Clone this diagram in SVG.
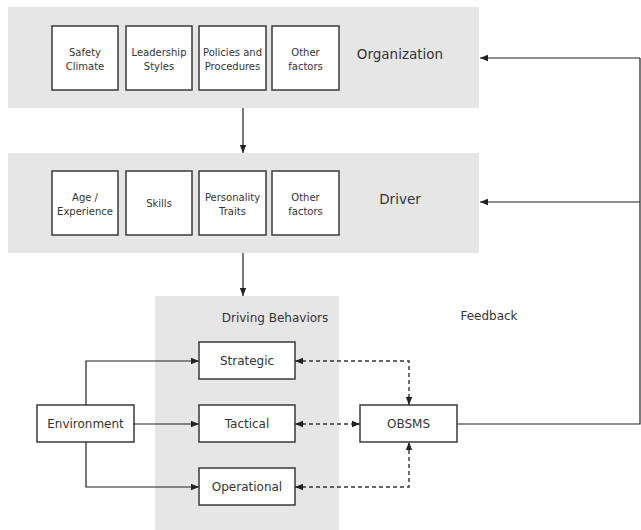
<svg xmlns="http://www.w3.org/2000/svg" width="641" height="530" viewBox="0 0 641 530">
<style>
.panel{fill:#e6e6e6;stroke:none}
.box{fill:#fff;stroke:#3a3a3a;stroke-width:1.5}
.t{font-family:"DejaVu Sans",Verdana,sans-serif;fill:#333;text-anchor:middle}
.s{font-size:10px}
.m{font-size:12px}
.h{font-size:13.5px}
.ln{fill:none;stroke:#222;stroke-width:1.2}
.ds{fill:none;stroke:#333;stroke-width:1.4;stroke-dasharray:4,3}
</style>
<defs>
<marker id="ah" viewBox="0 0 10 10" refX="10" refY="5" markerWidth="8" markerHeight="8" markerUnits="userSpaceOnUse" orient="auto-start-reverse">
<path d="M0,1 L10,5 L0,9 z" fill="#222"/>
</marker>
</defs>
<rect width="641" height="530" fill="#fff"/>
<g id="organization">
<rect class="panel" x="8" y="7" width="471" height="101"/>
<text class="t h" x="400" y="59">Organization</text>
</g>
<g id="safety-climate"><rect class="box" x="52" y="26" width="66" height="64"/><text class="t s" x="85" y="56">Safety</text><text class="t s" x="85" y="70">Climate</text></g>
<g id="leadership-styles"><rect class="box" x="126" y="26" width="66" height="64"/><text class="t s" x="159" y="56">Leadership</text><text class="t s" x="159" y="70">Styles</text></g>
<g id="policies"><rect class="box" x="199" y="26" width="67" height="64"/><text class="t s" x="232.5" y="56">Policies and</text><text class="t s" x="232.5" y="70">Procedures</text></g>
<g id="org-other"><rect class="box" x="272" y="26" width="67" height="64"/><text class="t s" x="305.5" y="56">Other</text><text class="t s" x="305.5" y="70">factors</text></g>
<g id="driver">
<rect class="panel" x="8" y="153" width="471" height="100"/>
<text class="t h" x="400" y="204">Driver</text>
</g>
<g id="age"><rect class="box" x="52" y="171" width="66" height="64"/><text class="t s" x="85" y="201">Age /</text><text class="t s" x="85" y="215">Experience</text></g>
<g id="skills"><rect class="box" x="126" y="171" width="66" height="64"/><text class="t s" x="159" y="207">Skills</text></g>
<g id="personality"><rect class="box" x="199" y="171" width="67" height="64"/><text class="t s" x="232.5" y="201">Personality</text><text class="t s" x="232.5" y="215">Traits</text></g>
<g id="driver-other"><rect class="box" x="272" y="171" width="67" height="64"/><text class="t s" x="305.5" y="201">Other</text><text class="t s" x="305.5" y="215">factors</text></g>
<g id="driving-behaviors">
<rect class="panel" x="155" y="296" width="184" height="240"/>
<text class="t m" x="275" y="322">Driving Behaviors</text>
</g>
<g id="strategic"><rect class="box" x="199" y="342" width="96" height="37"/><text class="t m" x="247" y="365">Strategic</text></g>
<g id="tactical"><rect class="box" x="199" y="405" width="96" height="37"/><text class="t m" x="247" y="428">Tactical</text></g>
<g id="operational"><rect class="box" x="199" y="468" width="96" height="37"/><text class="t m" x="247" y="491">Operational</text></g>
<g id="environment"><rect class="box" x="37" y="405" width="97" height="37"/><text class="t m" x="85.5" y="428">Environment</text></g>
<g id="obsms"><rect class="box" x="360" y="405" width="97" height="37"/><text class="t m" x="408.5" y="428">OBSMS</text></g>
<g id="feedback-label"><text class="t m" x="489" y="320">Feedback</text></g>
<g id="connectors">
<path class="ln" d="M243,108 V153" marker-end="url(#ah)"/>
<path class="ln" d="M243,253 V296" marker-end="url(#ah)"/>
<path class="ln" d="M86,405 V361 H199" marker-end="url(#ah)"/>
<path class="ln" d="M134,424 H199" marker-end="url(#ah)"/>
<path class="ln" d="M86,442 V487 H199" marker-end="url(#ah)"/>
<path class="ds" d="M295,361 H409 V405" marker-start="url(#ah)" marker-end="url(#ah)"/>
<path class="ds" d="M295,424 H360" marker-start="url(#ah)" marker-end="url(#ah)"/>
<path class="ds" d="M295,487 H409 V442" marker-start="url(#ah)" marker-end="url(#ah)"/>
<path class="ln" d="M457,424 H640 V58"/>
<path class="ln" d="M640,58 H480" marker-end="url(#ah)"/>
<path class="ln" d="M640,202 H480" marker-end="url(#ah)"/>
</g>
</svg>
